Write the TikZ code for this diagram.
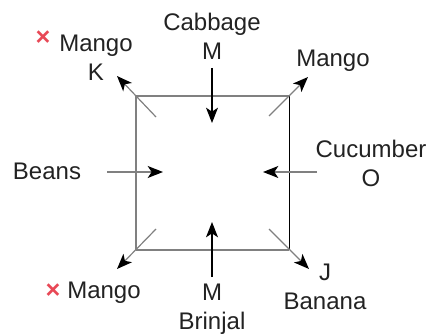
\documentclass[tikz,border=0pt]{standalone}
\usepackage{fontspec}
\setmainfont{Liberation Sans}
\usetikzlibrary{arrows.meta}
\definecolor{xred}{RGB}{232,72,86}
\definecolor{edgegray}{RGB}{128,128,128}
\definecolor{ink}{RGB}{34,34,34}
\tikzstyle{lbl} = [align=center, text=ink, font={\fontsize{18}{21.75}\selectfont}]
\tikzstyle{cross} = [text=xred, font={\fontsize{19}{21.75}\selectfont\bfseries}]
\tikzstyle{sq} = [draw=edgegray, line width=1.1pt]
\tikzstyle{tip} = [-{Stealth[length=11.5pt,width=9pt,inset=3pt,black]}]
\tikzstyle{arr} = [tip, draw=black, line width=0.8pt]
\tikzstyle{garr} = [tip, draw=edgegray, line width=0.9pt]

\begin{document}
\begin{tikzpicture}[x=0.75pt,y=-0.75pt]
    \useasboundingbox (0,0) rectangle (431,334);
    % the square
    \coordinate (tl) at (136,96);
    \coordinate (tr) at (289,96);
    \coordinate (bl) at (136,250);
    \coordinate (br) at (289,250);
    \draw[sq](tl)--(tr);
    \draw[sq](bl)--(br);
    \draw[sq](tl)--(bl);
    \draw[black,line width=0.75pt](tr)--(br);
    % labels
    \node[lbl](cab) at (212,36.5){Cabbage\\M};
    \node[lbl](brin) at (212,309){M\\Brinjal};
    \node[lbl](beans) at (47,171){Beans};
    \node[lbl](cuc) at (371,163){Cucumber\\O};
    \node[lbl](mtl) at (96,58){Mango\\K};
    \node[cross](xtl) at (43,38){×};
    \node[lbl](mtr) at (333,61){Mango};
    \node[lbl](mbl) at (104,293){Mango};
    \node[cross](xbl) at (53,291){×};
    \node[lbl](mbr) at (325,287){J\\Banana};
    % arrow ends
    \coordinate (cab0) at (212,68);   \coordinate (cab1) at (212,123);
    \coordinate (brin0) at (212,277); \coordinate (brin1) at (212,222);
    \coordinate (beans0) at (107,172); \coordinate (beans1) at (163,172);
    \coordinate (cuc0) at (317,172);  \coordinate (cuc1) at (263,172);
    \coordinate (mtl0) at (156,117);  \coordinate (mtl1) at (117,76);
    \coordinate (mtr0) at (269,116);  \coordinate (mtr1) at (308,77);
    \coordinate (mbl0) at (156,229);  \coordinate (mbl1) at (117,269);
    \coordinate (mbr0) at (269,229);  \coordinate (mbr1) at (309,269);
    \draw[arr](cab0)--(cab1);
    \draw[arr](brin0)--(brin1);
    \draw[garr](beans0)--(beans1);
    \draw[garr](cuc0)--(cuc1);
    \draw[garr](mtl0)--(mtl1);
    \draw[garr](mtr0)--(mtr1);
    \draw[garr](mbl0)--(mbl1);
    \draw[garr](mbr0)--(mbr1);
\end{tikzpicture}
\end{document}
